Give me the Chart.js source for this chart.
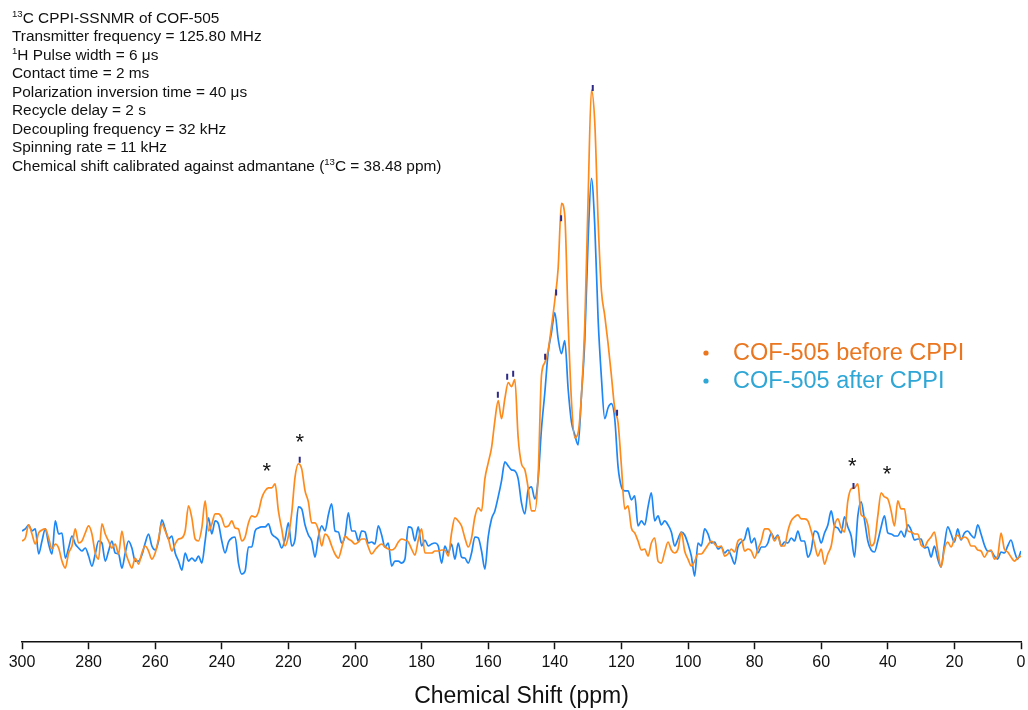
<!DOCTYPE html>
<html>
<head>
<meta charset="utf-8">
<script src="https://cdn.jsdelivr.net/npm/chart.js@4.4.1/dist/chart.umd.min.js"></script>
<style>
  html, body { margin: 0; padding: 0; background: #fff; }
  #wrap { width: 1028px; height: 710px; }
</style>
</head>
<body>
<div id="wrap"><canvas id="nmr" width="1028" height="710"></canvas></div>
<script>
// Chemical shift grid (ppm), 300 -> 0
const ppm = [
  300,299,298,297,296,295,294,293,292,291,290,289,288,287,286,285,284,283,282,281,
  280,279,278,277,276,275,274,273,272,271,270,269,268,267,266,265,264,263,262,261,
  260,259,258,257,256,255,254,253,252,251,250,249,248,247,246,245,244,243,242,241,
  240,239,238,237,236,235,234,233,232,231,230,229,228,227,226,225,224,223,222,221,
  220,219,218,217,216,215,214,213,212,211,210,209,208,207,206,205,204,203,202,201,
  200,199,198,197,196,195,194,193,192,191,190,189,188,187,186,185,184,183,182,181,
  180,179,178,177,176,175,174,173,172,171,170,169,168,167,166,165,164,163,162,161,
  160,159,158,157,156,155,154,153,152,151,150,149,148,147,146,145,144,143,142,141,
  140,139,138,137,136,135,134,133,132,131,130,129,128,127,126,125,124,123,122,121,
  120,119,118,117,116,115,114,113,112,111,110,109,108,107,106,105,104,103,102,101,
  100,99,98,97,96,95,94,93,92,91,90,89,88,87,86,85,84,83,82,81,
  80,79,78,77,76,75,74,73,72,71,70,69,68,67,66,65,64,63,62,61,
  60,59,58,57,56,55,54,53,52,51,50,49,48,47,46,45,44,43,42,41,
  40,39,38,37,36,35,34,33,32,31,30,29,28,27,26,25,24,23,22,21,
  20,19,18,17,16,15,14,13,12,11,10,9,8,7,6,5,4,3,2,1,
  0
];

// 13C intensity (a.u.), COF-505 before CPPI
const beforeCPPI = [
  5,8,21,12,2,13,16,17,8,-3,2,-2,-15,-22,-7,0,17,3,5,13,
  20,12,-7,-13,22,12,5,-2,2,-8,15,-5,-15,-22,-12,-18,-7,0,-5,-13,
  -7,7,22,15,7,-5,2,7,8,15,40,28,7,5,18,45,15,22,32,32,
  28,19,20,25,18,17,5,9,23,30,29,34,48,55,58,58,62,35,17,0,
  10,33,69,82,77,55,44,23,23,16,0,12,9,0,-8,-12,-2,10,7,5,
  2,4,7,7,-1,-8,-4,0,2,-1,-3,-4,-2,4,7,6,4,-3,-9,6,
  17,-7,-7,-7,-5,-5,-4,-4,-10,13,28,25,20,8,-1,8,29,38,35,67,
  83,98,125,145,127,147,163,159,166,108,82,76,58,35,35,70,170,183,195,219,
  245,277,342,330,225,145,108,113,150,220,347,455,423,325,255,230,202,170,137,123,
  80,37,40,18,13,5,-4,-3,-10,3,8,-15,-17,-6,4,-4,-7,-3,14,-5,
  -13,-20,-15,-8,-8,-4,1,5,2,-1,0,-10,-8,-3,-6,5,7,-5,-3,-5,
  -12,-3,5,17,17,13,5,10,0,0,15,25,29,31,27,27,25,15,2,-10,
  -3,-18,-8,0,20,27,18,14,45,57,58,62,31,29,21,0,4,30,53,49,
  47,35,20,45,37,37,15,14,12,12,1,-1,5,9,14,-5,-21,-3,4,-1,
  7,11,7,9,7,0,0,-4,-5,-11,-6,-4,-13,-10,13,-3,-6,-11,-15,-12,
  -10
];

// 13C intensity (a.u.), COF-505 after CPPI
const afterCPPI = [
  15,17,21,15,17,-8,5,17,2,-8,25,12,13,-12,-2,10,2,-2,-5,-2,
  -10,-20,-8,5,3,-15,-5,5,-7,-8,-22,-7,5,-2,-15,-15,-9,3,12,0,
  -4,5,26,17,7,10,-7,-15,-24,-7,-15,-12,-15,-10,-17,5,28,12,25,22,
  5,-7,4,8,9,-17,-28,-25,-1,-1,15,18,19,19,22,12,9,6,-2,7,
  23,0,7,39,37,21,11,5,-11,9,20,15,31,42,15,14,3,10,33,15,
  15,5,15,14,3,4,2,20,11,-1,3,-20,-15,-15,-17,-13,19,18,5,19,
  0,6,0,2,3,0,-17,0,-7,2,-13,3,-11,-12,-17,-7,9,8,-5,-23,
  9,27,35,49,65,84,80,76,75,67,43,32,56,59,47,67,117,153,193,213,
  233,207,192,205,157,124,111,101,150,205,305,367,320,227,168,127,138,142,127,79,
  59,55,55,46,50,20,25,21,39,53,25,30,21,25,21,14,0,7,14,11,
  2,-10,-30,3,0,17,12,3,4,-3,-1,-7,-4,-10,-18,-1,4,7,18,3,
  8,-7,-1,-1,3,13,7,11,0,4,3,8,5,15,5,5,-11,-4,15,13,
  3,13,21,35,20,18,13,29,19,10,-11,30,44,26,5,-4,-6,5,19,30,
  13,12,10,10,15,9,21,16,6,7,7,-2,-1,-11,0,-13,-21,1,19,12,
  4,17,6,13,15,11,8,21,12,1,-5,-5,-10,-13,-6,-7,0,6,-5,-13,
  -5
];

// Peak-pick ticks on the "before" trace
const pickPpm = [216.6, 157.1, 154.3, 152.5, 142.9, 139.6, 138.1, 128.6, 121.3, 50.3];
const pickInt = [86, 151, 169, 172, 189, 253, 327, 457, 133, 60];

// Spinning sideband asterisks
const sidebandPpm = [226.5, 216.6, 50.7, 40.2];
const sidebandInt = [79, 108, 84, 76];

// Axis ticks
const xTicks = [300,280,260,240,220,200,180,160,140,120,100,80,60,40,20,0];

const seriesNames = ['COF-505 before CPPI', 'COF-505 after CPPI'];

const infoLines = [
  [['13', true], ['C CPPI-SSNMR of COF-505', false]],
  [['Transmitter frequency = 125.80 MHz', false]],
  [['1', true], ['H Pulse width = 6 \u03bcs', false]],
  [['Contact time = 2 ms', false]],
  [['Polarization inversion time = 40 \u03bcs', false]],
  [['Recycle delay = 2 s', false]],
  [['Decoupling frequency = 32 kHz', false]],
  [['Spinning rate = 11 kHz', false]],
  [['Chemical shift calibrated against admantane (', false], ['13', true], ['C = 38.48 ppm)', false]]
];

const FONT = "'Liberation Sans', Arial, Helvetica, sans-serif";
const ORANGE_LINE = '#FF8A1C';
const BLUE_LINE = '#1E87F5';
const ORANGE_TEXT = '#EA761F';
const BLUE_TEXT = '#2EA6D6';

const toXY = (xs, ys) => xs.map((x, i) => ({ x: x, y: ys[i] }));

// Header text, legend and sideband marks
const overlay = {
  id: 'overlay',
  afterDraw(chart) {
    const ctx = chart.ctx;
    const xs = chart.scales.x, ys = chart.scales.y;
    ctx.save();
    // acquisition parameters
    const size = 15.4, supSize = 9.6, lh = 18.5;
    ctx.fillStyle = '#111';
    ctx.textBaseline = 'alphabetic';
    infoLines.forEach((segs, li) => {
      let x = 12;
      const base = 22.5 + li * lh;
      segs.forEach(([t, sup]) => {
        ctx.font = (sup ? supSize : size) + 'px ' + FONT;
        ctx.fillText(t, x, sup ? base - 5.2 : base);
        x += ctx.measureText(t).width;
      });
    });
    // legend
    const legendRows = [[seriesNames[0], ORANGE_TEXT, 354], [seriesNames[1], BLUE_TEXT, 382]];
    ctx.font = '23.5px ' + FONT;
    ctx.textBaseline = 'middle';
    legendRows.forEach(([label, col, y]) => {
      ctx.fillStyle = col;
      ctx.beginPath();
      ctx.arc(706, y - 1, 2.6, 0, Math.PI * 2);
      ctx.fill();
      ctx.fillText(label, 733, y);
    });
    // asterisks
    ctx.fillStyle = '#111';
    ctx.font = '22px ' + FONT;
    ctx.textAlign = 'center';
    sidebandPpm.forEach((p, i) => {
      ctx.fillText('*', xs.getPixelForValue(p), ys.getPixelForValue(sidebandInt[i]) + 5);
    });
    ctx.restore();
  }
};

new Chart(document.getElementById('nmr'), {
  type: 'line',
  data: {
    datasets: [
      {
        label: 'picks',
        data: toXY(pickPpm, pickInt),
        showLine: false,
        pointStyle: 'line',
        rotation: 90,
        pointRadius: 3,
        pointBorderWidth: 2,
        pointBorderColor: '#2E2A86',
        pointBackgroundColor: '#2E2A86'
      },
      {
        label: seriesNames[0],
        data: toXY(ppm, beforeCPPI),
        borderColor: ORANGE_LINE,
        borderWidth: 1.7,
        pointRadius: 0,
        cubicInterpolationMode: 'monotone',
        fill: false
      },
      {
        label: seriesNames[1],
        data: toXY(ppm, afterCPPI),
        borderColor: BLUE_LINE,
        borderWidth: 1.7,
        pointRadius: 0,
        cubicInterpolationMode: 'monotone',
        fill: false
      }
    ]
  },
  options: {
    responsive: false,
    animation: false,
    devicePixelRatio: 1,
    layout: { padding: { top: 40, left: 22, right: 7, bottom: 0 } },
    plugins: { legend: { display: false }, tooltip: { enabled: false } },
    scales: {
      x: {
        type: 'linear',
        reverse: true,
        min: 0,
        max: 300,
        afterBuildTicks(scale) { scale.ticks = xTicks.map(v => ({ value: v })); },
        afterFit(scale) { scale.paddingLeft = 0; scale.paddingRight = 0; },
        ticks: { color: '#111', font: { family: FONT, size: 16 }, padding: 4, maxRotation: 0 },
        grid: { display: true, drawOnChartArea: false, drawTicks: true, tickLength: 7, tickColor: '#111', tickWidth: 1.5 },
        border: { display: true, color: '#111', width: 1.5 },
        title: { display: true, text: 'Chemical Shift (ppm)', color: '#111', font: { family: FONT, size: 23 }, padding: { top: 6, bottom: 0 } }
      },
      y: {
        display: false,
        min: -96,
        max: 505
      }
    }
  },
  plugins: [overlay]
});
</script>
</body>
</html>
